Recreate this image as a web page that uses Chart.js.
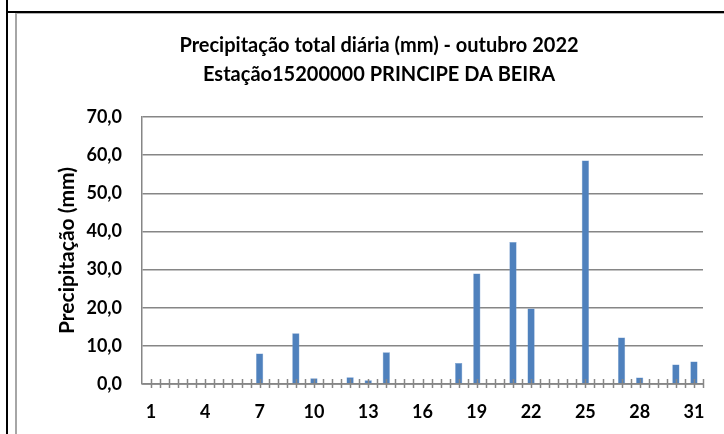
<!DOCTYPE html>
<html>
<head>
<meta charset="utf-8">
<script src="https://cdn.jsdelivr.net/npm/chart.js@4.4.1/dist/chart.umd.min.js"></script>
<style>
  html, body { margin: 0; padding: 0; background: #fff; }
  #wrap { position: relative; width: 724px; height: 434px; overflow: hidden; }
  #frameV { position: absolute; left: 6px; top: 0; width: 2px; height: 434px; background: #000; }
  #frameH { position: absolute; left: 6px; top: 11px; width: 718px; height: 2px; background: #000; }
  #inner { position: absolute; left: 15px; top: 13px; width: 720px; height: 430px;
           border-left: 2px solid #a6a6a6; border-top: 1px solid #b0b0b0; }
  canvas { position: absolute; left: 0; top: 0; }
</style>
</head>
<body>
<div id="wrap">
  <div id="frameV"></div>
  <div id="frameH"></div>
  <div id="inner"></div>
  <canvas id="chart" width="724" height="434"></canvas>
</div>
<script>
// dias de outubro e precipitação (mm)
const days = Array.from({ length: 31 }, (_, i) => String(i + 1));
const precip = [
  0, 0, 0, 0, 0, 0, 8.0, 0, 13.3, 1.5,
  0, 1.8, 1.0, 8.3, 0, 0, 0, 5.5, 29.0, 0,
  37.2, 19.8, 0, 0, 58.6, 0, 12.2, 1.7, 0, 5.1,
  5.9,
];
const yTicks = [0, 10, 20, 30, 40, 50, 60, 70];

const FONT = "Lato, 'Open Sans', sans-serif";
const GRID = "#868686";

// Excel style cross ticks on the category axis (centres and boundaries)
const crossTicks = {
  id: "crossTicks",
  afterDatasetsDraw(chart) {
    const x = chart.scales.x;
    const { ctx, chartArea } = chart;
    const y0 = chart.scales.y.getPixelForValue(0);
    ctx.save();
    ctx.strokeStyle = GRID;
    ctx.lineWidth = 1.5;
    ctx.beginPath();
    ctx.moveTo(chartArea.left, y0);
    ctx.lineTo(chartArea.right, y0);
    const pts = [];
    for (let i = 0; i < days.length; i++) {
      const c = x.getPixelForValue(i);
      pts.push(c);
      pts.push(i < days.length - 1 ? (c + x.getPixelForValue(i + 1)) / 2 : chartArea.right);
    }
    pts.forEach((px) => {
      const p = Math.round(px) + 0.5;
      ctx.moveTo(p, y0 - 5);
      ctx.lineTo(p, y0 + 4);
    });
    ctx.stroke();
    ctx.restore();
  },
};

new Chart(document.getElementById("chart"), {
  type: "bar",
  data: {
    labels: days,
    datasets: [
      {
        data: precip,
        backgroundColor: "#4F81BD",
        borderColor: "#6f98cb",
        borderWidth: 0.5,
        barPercentage: 0.4,
        categoryPercentage: 1,
      },
    ],
  },
  options: {
    responsive: false,
    animation: false,
    devicePixelRatio: 1,
    layout: { padding: { left: 55, right: 21, top: 0, bottom: 0 } },
    plugins: {
      legend: { display: false },
      tooltip: { enabled: false },
      title: {
        display: true,
        text: ["Precipitação total diária (mm) - outubro 2022", "Estação15200000 PRINCIPE DA BEIRA"],
        color: "#000",
        font: { family: FONT, size: 20, weight: "bold", lineHeight: 1.45 },
        padding: { top: 31, bottom: 28 },
      },
    },
    scales: {
      x: {
        offset: true,
        grid: { display: false, drawTicks: false },
        border: { display: false },
        ticks: {
          autoSkip: false,
          maxRotation: 0,
          padding: 17,
          color: "#000",
          font: { family: FONT, size: 18, weight: "bold" },
          callback: (v, i) => (i % 3 === 0 ? days[i] : ""),
        },
        afterFit: (s) => { s.height = 50; },
      },
      y: {
        min: 0,
        max: 70,
        afterBuildTicks: (s) => { s.ticks = yTicks.map((v) => ({ value: v })); },
        grid: { color: GRID, lineWidth: 1.5, drawTicks: false },
        border: { display: true, color: GRID, width: 1.5 },
        ticks: {
          padding: 20,
          color: "#000",
          font: { family: FONT, size: 18, weight: "bold" },
          callback: (v) => v.toFixed(1).replace(".", ","),
        },
        title: {
          display: true,
          text: "Precipitação (mm)",
          color: "#000",
          font: { family: FONT, size: 21, weight: "bold" },
          padding: 0,
        },
        afterFit: (s) => { s.width = 87; },
      },
    },
  },
  plugins: [crossTicks],
});
</script>
</body>
</html>
